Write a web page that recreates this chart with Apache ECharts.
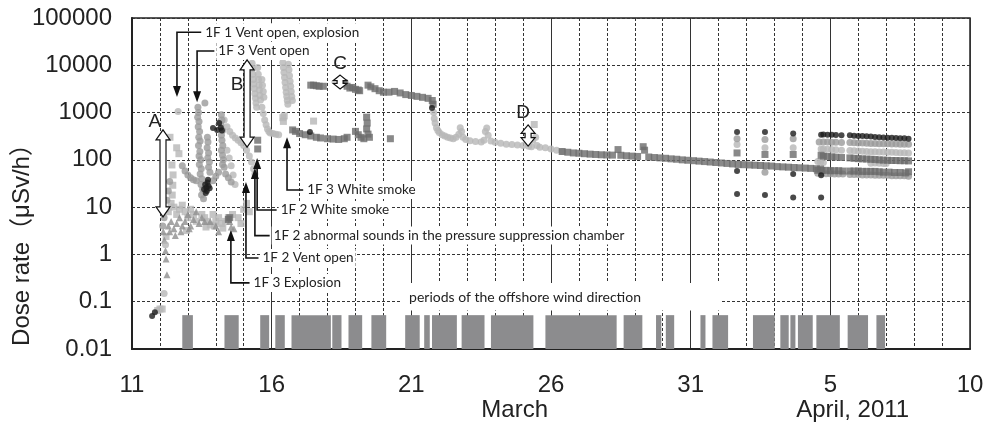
<!DOCTYPE html>
<html>
<head>
<meta charset="utf-8">
<script src="https://cdn.jsdelivr.net/npm/echarts@6/dist/echarts.min.js"></script>
<style>
  html, body { margin: 0; background: #fff; }
  #chart { width: 995px; height: 428px; }
</style>
</head>
<body>
<div id="chart"></div>
<script>
// days counted from March 0 (March 11 = 11, April 1 = 32, April 10 = 41)
const xTickDays = [11, 16, 21, 26, 31, 36, 41];
const xTickLabels = ["11", "16", "21", "26", "31", "5", "10"];
const yTickLabels = ["0.01", "0.1", "1", "10", "100", "1000", "10000", "100000"];

// dose rates (μSv/h) at [day, value]
const lightGrayDots = [
  [12.65, 1050], [12.15, 0.15], [12.2, 1.6],
  [14.3, 700], [14.4, 500], [14.5, 400], [14.6, 330], [14.7, 290], [14.8, 260], [14.9, 230],
  [15.0, 200], [15.1, 160], [15.2, 120], [15.28, 90], [15.35, 65], [15.4, 50],
  [14.4, 160], [14.48, 110], [14.55, 75], [14.62, 48], [14.69, 30],
  [15.3, 11000], [15.31, 8500], [15.33, 6500], [15.35, 5000], [15.36, 4000], [15.38, 3200],
  [15.4, 2500], [15.42, 2000], [15.44, 1600], [15.46, 1300],
  [15.5, 9000], [15.52, 6500], [15.53, 5000], [15.55, 3800], [15.56, 3000], [15.58, 2300],
  [15.6, 1850], [15.65, 1300], [15.7, 950], [15.75, 700], [15.8, 550], [15.85, 450],
  [15.9, 400], [15.95, 370], [16.05, 360], [16.15, 350], [16.25, 340],
  [15.65, 5000], [15.67, 3800], [15.7, 2800], [15.72, 2100],
  [16.4, 11500], [16.42, 9000], [16.44, 7000], [16.46, 5500], [16.48, 4300], [16.5, 3400],
  [16.52, 2700], [16.54, 2200], [16.56, 1800], [16.58, 1500],
  [16.6, 10500], [16.62, 8000], [16.64, 6000], [16.66, 4600], [16.68, 3600], [16.7, 2800],
  [16.72, 2200], [16.74, 1800],
  [21.8, 1000], [21.82, 750], [21.85, 600], [21.9, 480], [21.95, 420], [22.0, 380], [22.1, 340],
  [22.2, 320], [22.3, 300], [22.4, 290], [22.5, 280], [22.6, 300], [22.7, 350], [22.75, 480],
  [22.8, 400], [22.85, 300], [22.95, 270], [23.1, 255], [23.3, 245], [23.5, 240], [23.6, 260],
  [23.65, 400], [23.7, 470], [23.75, 330], [23.85, 250], [24.0, 235], [24.2, 225], [24.4, 215],
  [24.6, 210], [24.8, 205], [25.0, 200], [25.2, 195], [25.3, 190], [25.35, 260], [25.45, 300],
  [25.5, 200], [25.6, 185], [25.8, 180], [26.0, 170], [26.2, 160], [26.4, 150],
  [32.66, 210], [33.66, 180], [34.67, 180], [35.67, 170],
  [35.75, 170], [35.9, 168], [36.05, 165], [36.2, 163], [36.4, 160], [36.7, 158], [36.85, 156],
  [37.0, 154], [37.15, 152], [37.3, 150], [37.45, 149], [37.6, 148], [37.75, 147], [37.9, 146],
  [38.05, 145], [38.2, 144], [38.35, 143], [38.5, 142], [38.65, 141], [38.8, 140],
  [35.55, 92], [35.65, 90], [35.75, 88], [37.45, 85], [37.6, 86], [37.75, 85], [37.9, 84], [38.0, 84]
];

const lightGraySquares = [
  [11.92, 0.065], [12.0, 0.07], [12.08, 0.07], [12.22, 2.4],
  [12.36, 300], [12.6, 180], [12.68, 135], [12.43, 78], [12.47, 48], [12.46, 29], [12.44, 18],
  [12.3, 8], [12.4, 12], [12.5, 10], [12.6, 7], [12.7, 9], [12.8, 11], [12.9, 8], [13.0, 6],
  [13.1, 9], [13.2, 7], [13.3, 5], [13.5, 7], [13.6, 6], [13.7, 5], [13.8, 4.2], [13.9, 7],
  [14.0, 5], [14.1, 6], [14.2, 4.5], [14.35, 5], [14.45, 6], [14.6, 7], [14.8, 6], [14.9, 4.5],
  [15.0, 9], [15.1, 12], [15.2, 8], [13.65, 3.8], [13.95, 4], [14.25, 3.6], [12.95, 3.2],
  [16.4, 780], [16.42, 650], [16.45, 850], [17.5, 660], [25.4, 560]
];

const midGrayDots = [
  [13.61, 1600], [13.36, 1300], [13.38, 1000], [13.35, 800], [13.4, 650], [13.37, 500],
  [13.42, 400], [13.39, 300], [13.44, 250], [13.38, 200], [13.43, 150], [13.4, 120],
  [13.46, 100], [13.41, 80], [13.48, 65], [13.44, 50], [13.5, 40], [13.47, 30],
  [13.53, 24], [13.49, 18], [13.56, 15],
  [13.7, 300], [13.72, 240], [13.69, 180], [13.74, 140], [13.71, 110], [13.77, 90],
  [13.74, 70], [13.79, 55],
  [14.2, 900], [14.22, 700], [14.18, 550], [14.24, 420], [14.2, 330], [14.22, 260],
  [14.25, 200], [14.2, 160], [14.24, 125], [14.27, 100], [14.24, 80], [14.3, 70],
  [12.8, 75], [12.9, 58], [13.0, 48], [13.1, 42], [13.2, 38], [13.3, 36], [13.9, 36],
  [14.0, 45], [14.1, 55], [14.35, 50], [14.45, 42], [14.55, 34],
  [12.1, 4], [12.15, 6], [12.2, 9], [12.25, 14], [12.3, 22], [12.35, 35],
  [32.66, 280], [33.66, 270], [34.67, 280], [33.66, 55],
  [35.6, 240], [35.75, 240], [35.9, 238], [36.05, 236], [36.2, 235], [36.4, 233], [36.7, 232],
  [36.85, 230], [37.0, 228], [37.15, 226], [37.3, 225], [37.45, 223], [37.6, 222], [37.75, 220],
  [37.9, 219], [38.05, 218], [38.2, 217], [38.35, 216], [38.5, 215], [38.65, 214], [38.8, 213],
  [35.55, 52], [35.7, 52], [35.85, 51], [36.0, 51], [36.15, 50], [36.3, 50], [36.45, 50],
  [36.7, 49], [36.85, 49], [37.0, 49], [37.15, 48], [37.3, 48], [37.45, 48], [37.6, 47],
  [37.75, 47], [37.9, 47], [38.05, 47], [38.2, 46], [38.35, 46], [38.5, 46], [38.65, 46], [38.8, 45]
];

const darkGraySquares = [
  [14.45, 5.5], [14.5, 6], [15.5, 260], [15.5, 170],
  [17.4, 3800], [17.5, 3800], [17.6, 3700], [17.7, 3600], [17.85, 3600],
  [18.5, 4000], [18.6, 4200], [18.7, 3600], [18.8, 3300], [18.9, 3400], [19.0, 3100],
  [19.1, 3000], [19.15, 2900],
  [19.45, 3800], [19.55, 3500], [19.7, 3200], [19.85, 2900], [20.0, 2700], [20.2, 2700],
  [20.4, 2800], [20.6, 2600], [20.8, 2400], [21.0, 2300], [21.2, 2200], [21.4, 2100],
  [21.6, 2000], [21.75, 1800], [21.78, 1500],
  [16.75, 430], [16.85, 400], [17.0, 360], [17.2, 340], [17.4, 320], [17.6, 300], [17.75, 290],
  [18.0, 280], [18.2, 275], [18.4, 270], [18.6, 280], [18.7, 300],
  [19.0, 400], [19.1, 340], [19.2, 300], [19.3, 280], [19.4, 800], [19.42, 600], [19.4, 450],
  [19.45, 350], [19.5, 300], [20.25, 280],
  [26.4, 150], [26.6, 145], [26.8, 140], [27.0, 138], [27.2, 135], [27.4, 132], [27.6, 130],
  [27.8, 128], [28.0, 127], [28.2, 126], [28.4, 165], [28.5, 125], [28.7, 122], [28.9, 120],
  [29.1, 118], [29.3, 190], [29.35, 160], [29.5, 115], [29.7, 112], [29.9, 110], [30.1, 108],
  [30.3, 105], [30.5, 103], [30.7, 100], [30.9, 98], [31.1, 96], [31.3, 94], [31.5, 92],
  [31.7, 90], [31.9, 88], [32.1, 86], [32.3, 84], [32.5, 82], [32.7, 80], [32.9, 79],
  [33.1, 78], [33.3, 77], [33.5, 76], [33.7, 75], [33.9, 74], [34.1, 72], [34.3, 71],
  [34.5, 70], [34.7, 69], [34.9, 68], [35.1, 67], [35.3, 66], [35.5, 65], [35.65, 64],
  [32.66, 140], [33.66, 130], [34.67, 130], [35.67, 125],
  [35.75, 120], [35.9, 118], [36.05, 116], [36.2, 114], [36.4, 112], [36.7, 110], [36.85, 108],
  [37.0, 106], [37.15, 105], [37.3, 104], [37.45, 103], [37.6, 102], [37.75, 100], [37.9, 99],
  [38.05, 98], [38.2, 97], [38.35, 97], [38.5, 96], [38.65, 96], [38.8, 95],
  [35.55, 60], [35.7, 60], [35.85, 60], [36.0, 59], [36.15, 59], [36.3, 59], [36.45, 58],
  [36.7, 58], [36.85, 58], [37.0, 58], [37.15, 57], [37.3, 57], [37.45, 57], [37.6, 57],
  [37.75, 56], [37.9, 55], [38.1, 55], [38.3, 54], [38.5, 54], [38.7, 53], [38.8, 56]
];

const blackDots = [
  [11.72, 0.05], [11.82, 0.06],
  [13.62, 30], [13.66, 26], [13.7, 33], [13.68, 22], [13.74, 28], [13.64, 20], [13.72, 38],
  [13.78, 25], [13.58, 24],
  [13.9, 470], [14.05, 430], [14.12, 600], [14.18, 480], [14.22, 420],
  [17.37, 390], [21.74, 1250],
  [32.66, 390], [33.66, 390], [34.67, 360], [35.67, 340],
  [32.66, 19], [33.66, 18], [34.67, 16], [35.67, 16],
  [32.66, 58], [34.67, 50], [35.67, 47],
  [35.75, 345], [35.9, 340], [36.05, 338], [36.2, 335], [36.4, 332], [36.7, 330], [36.85, 325],
  [37.0, 320], [37.15, 318], [37.3, 315], [37.45, 310], [37.6, 305], [37.75, 300], [37.9, 298],
  [38.05, 295], [38.2, 292], [38.35, 290], [38.5, 288], [38.65, 285], [38.8, 280]
];

const grayTriangles = [
  [12.12, 3], [12.16, 2], [12.2, 1.2], [12.22, 0.8], [12.25, 0.37], [12.3, 4], [12.35, 3],
  [12.4, 5], [12.5, 3.5], [12.55, 2.5], [12.6, 4.5], [12.7, 6], [12.75, 3], [12.8, 4],
  [12.9, 5], [13.0, 7], [13.05, 3.5], [13.1, 4], [13.2, 5.5], [13.3, 8], [13.4, 4.5],
  [13.5, 6], [13.6, 5], [13.8, 5], [14.0, 4], [14.1, 3], [14.5, 5], [14.55, 3.8],
  [14.65, 3.5], [14.1, 650]
];

// periods of the offshore wind direction [start day, end day]
const windStart = [12.8, 14.31, 15.59, 16.13, 16.71, 18.17, 18.75, 19.57, 20.78, 21.46, 21.74,
  22.8, 23.85, 25.8, 28.6, 29.76, 30.11, 31.35, 31.78, 33.23, 34.21, 34.57, 34.84, 35.5, 36.62, 37.65];
const windEnd = [13.18, 14.82, 15.91, 16.47, 18.12, 18.5, 19.24, 20.1, 21.3, 21.66, 22.63,
  23.62, 25.37, 28.35, 29.27, 29.95, 30.41, 31.53, 32.34, 34.01, 34.51, 34.75, 35.37, 36.34, 37.35, 37.96];

// event notes: text, day, arrow tip, bend value, text start day
const eventNotes = [
  ["1F 1 Vent open, explosion", 12.61, 2140, 50000, 13.55],
  ["1F 3 Vent open", 13.33, 1660, 20000, 14.02],
  ["1F 3 White smoke", 16.55, 300, 23, 17.2],
  ["1F 2 White smoke", 15.48, 110, 8.7, 16.25],
  ["1F 2 abnormal sounds in the pressure suppression chamber", 15.4, 67, 2.5, 16.0],
  ["1F 2 Vent open", 15.08, 34, 0.84, 15.6],
  ["1F 3 Explosion", 14.54, 3.3, 0.25, 15.28]
];
// ranges: letter, day, top, bottom, letter day, letter value
const rangeMarks = [
  ["A", 12.11, 430, 6.2, 11.82, 630],
  ["B", 15.12, 13000, 186, 14.76, 3800],
  ["C", 18.45, 6200, 3150, 18.45, 11000],
  ["D", 25.18, 550, 195, 25.0, 1000]
];

const WIND_TOP = 0.052;
const NOTE_FONT = "13.5px Lato, 'Noto Sans', sans-serif";
const AXIS_FONT = "24px 'Liberation Sans', Arial, 'Noto Sans CJK JP'";

const chart = echarts.init(document.getElementById("chart"));

function scatter(name, data, symbol, size, color) {
  return { name, type: "scatter", data, symbol, symbolSize: size, itemStyle: { color }, z: 3 };
}

const option = {
  animation: false,
  backgroundColor: "#fff",
  grid: {
    left: 132, right: 25, top: 18, bottom: 79,
    containLabel: false, outerBoundsMode: "none",
    show: true, borderColor: "#222", borderWidth: 1.5
  },
  xAxis: [
    {
      type: "value", min: 11, max: 41, interval: 1,
      axisLine: { lineStyle: { color: "#222", width: 2 } },
      axisTick: { show: false },
      splitLine: { lineStyle: { color: "#333", type: [3, 2], width: 1 } },
      axisLabel: {
        margin: 24, fontSize: 24, color: "#222", fontFamily: "Liberation Sans, Arial",
        formatter: v => {
          const i = xTickDays.indexOf(Math.round(v));
          return i >= 0 ? xTickLabels[i] : "";
        }
      }
    },
    {
      type: "value", min: 11, max: 41, interval: 5,
      axisLine: { show: false }, axisTick: { show: false }, axisLabel: { show: false },
      splitLine: { lineStyle: { color: "#333", width: 1 } }
    }
  ],
  yAxis: {
    type: "log", logBase: 10, min: 0.01, max: 100000,
    axisLine: { show: true, lineStyle: { color: "#222", width: 2 } },
    axisTick: { show: false },
    splitLine: { lineStyle: { color: "#333", type: [3, 2], width: 1 } },
    axisLabel: {
      margin: 20, fontSize: 24, color: "#222", fontFamily: "Liberation Sans, Arial",
      formatter: v => yTickLabels[Math.round(Math.log10(v)) + 2]
    }
  },
  graphic: [
    { type: "text", x: 22, y: 239, rotation: Math.PI / 2, style: { text: "Dose rate（μSv/h）", font: AXIS_FONT, fill: "#222", align: "center", verticalAlign: "middle" } }
  ],
  series: [
    {
      name: "wind", type: "custom", z: 2,
      data: windStart.map((s, i) => [s, windEnd[i], WIND_TOP]),
      encode: { x: [0, 1], y: 2 },
      renderItem(params, api) {
        const p0 = api.coord([api.value(0), WIND_TOP]);
        const p1 = api.coord([api.value(1), 0.01]);
        return {
          type: "rect",
          shape: { x: p0[0], y: p0[1], width: p1[0] - p0[0], height: p1[1] - p0[1] },
          style: { fill: "#8c8c8e" }
        };
      }
    },
    {
      name: "windNote", type: "custom", z: 2,
      data: [[20.65, 0.25, 32.1, 0.065]],
      encode: { x: [0, 2], y: [1, 3] },
      renderItem(params, api) {
        const p0 = api.coord([api.value(0), api.value(1)]);
        const p1 = api.coord([api.value(2), api.value(3)]);
        const mid = api.coord([25.07, 0.12]);
        return {
          type: "group",
          children: [
            { type: "rect", shape: { x: p0[0], y: p0[1], width: p1[0] - p0[0], height: p1[1] - p0[1] }, style: { fill: "#fff" } },
            { type: "text", x: mid[0], y: mid[1], style: { text: "periods of the offshore wind direction", font: "14px Lato, 'Noto Sans', sans-serif", fill: "#222", align: "center", verticalAlign: "middle" } }
          ]
        };
      }
    },
    scatter("lightSq", lightGraySquares, "rect", 7, "#b6b6b6"),
    scatter("tri", grayTriangles, "triangle", 7, "#8e8e8e"),
    scatter("light", lightGrayDots, "circle", 7, "#b6b6b6"),
    scatter("mid", midGrayDots, "circle", 7, "#9a9a9a"),
    scatter("dark", darkGraySquares, "rect", 7, "#6c6c6c"),
    scatter("black", blackDots, "circle", 6, "#1c1c1c"),
    {
      name: "events", type: "custom", z: 5,
      data: eventNotes.map(e => [e[1], e[2], e[3], e[4]]),
      encode: { x: [0, 3], y: [1, 2] },
      renderItem(params, api) {
        const note = eventNotes[params.dataIndex];
        const tip = api.coord([note[1], note[2]]);
        const bend = api.coord([note[1], note[3]]);
        const txt = api.coord([note[4], note[3]]);
        const dir = tip[1] > bend[1] ? 1 : -1;
        return {
          type: "group",
          children: [
            { type: "polyline", shape: { points: [[tip[0], tip[1] - dir * 8], bend, [txt[0] - 2, bend[1]]] }, style: { stroke: "#111", lineWidth: 1.6, fill: null } },
            { type: "polygon", shape: { points: [tip, [tip[0] - 4, tip[1] - dir * 11], [tip[0] + 4, tip[1] - dir * 11]] }, style: { fill: "#111" } },
            { type: "text", x: txt[0], y: bend[1], style: { text: note[0], font: NOTE_FONT, fill: "#222", verticalAlign: "middle", backgroundColor: "#fff", padding: [2, 2] } }
          ]
        };
      }
    },
    {
      name: "ranges", type: "custom", z: 5,
      data: rangeMarks.map(r => [r[1], r[2], r[3]]),
      encode: { x: 0, y: [1, 2] },
      renderItem(params, api) {
        const r = rangeMarks[params.dataIndex];
        const a = api.coord([r[1], r[2]]);
        const b = api.coord([r[1], r[3]]);
        const lab = api.coord([r[4], r[5]]);
        const cx = a[0], y1 = a[1], y2 = b[1];
        const head = Math.min(10, (y2 - y1) * 0.4);
        const hw = 7, sw = 3;
        return {
          type: "group",
          children: [
            {
              type: "polygon",
              shape: { points: [[cx, y1], [cx + hw, y1 + head], [cx + sw, y1 + head], [cx + sw, y2 - head], [cx + hw, y2 - head], [cx, y2], [cx - hw, y2 - head], [cx - sw, y2 - head], [cx - sw, y1 + head], [cx - hw, y1 + head]] },
              style: { fill: "#fff", stroke: "#111", lineWidth: 1.2 }
            },
            { type: "text", x: lab[0], y: lab[1], style: { text: r[0], font: "19px 'Liberation Sans', Arial", fill: "#222", align: "center", verticalAlign: "middle" } }
          ]
        };
      }
    }
  ]
};

chart.setOption(option);

const marchX = chart.convertToPixel({ xAxisIndex: 0 }, 24.7);
const aprilX = chart.convertToPixel({ xAxisIndex: 0 }, 36.8);
chart.setOption({
  graphic: [
    { type: "text", x: 22, y: 239, rotation: Math.PI / 2, style: { text: "Dose rate（μSv/h）", font: AXIS_FONT, fill: "#222", align: "center", verticalAlign: "middle" } },
    { type: "text", x: marchX, y: 410, style: { text: "March", font: AXIS_FONT, fill: "#222", align: "center", verticalAlign: "middle" } },
    { type: "text", x: aprilX, y: 410, style: { text: "April, 2011", font: AXIS_FONT, fill: "#222", align: "center", verticalAlign: "middle" } }
  ]
});
</script>
</body>
</html>
